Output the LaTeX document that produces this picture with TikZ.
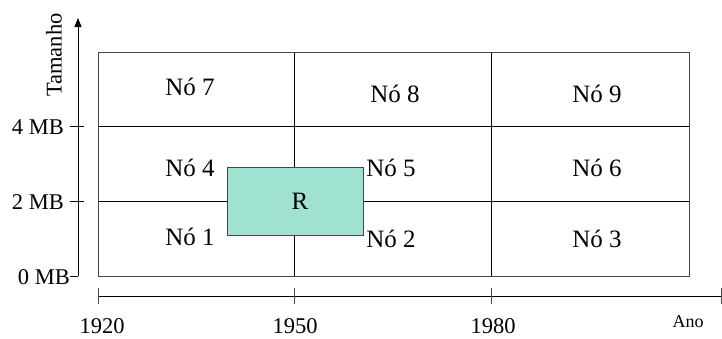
\documentclass[tikz,border=0pt]{standalone}
\usepackage{fontspec}
\setmainfont{Liberation Serif}
\usetikzlibrary{arrows.meta}
\definecolor{rfill}{RGB}{160,226,210}
\definecolor{rline}{RGB}{70,70,70}
\begin{document}
\begin{tikzpicture}[x=1pt,y=-1pt,
  lbl/.style={font=\fontsize{25}{28}\selectfont, inner sep=0pt, anchor=base},
  axlbl/.style={font=\fontsize{22.5}{24}\selectfont, inner sep=0pt, anchor=base},
  small/.style={font=\fontsize{18}{20}\selectfont, inner sep=0pt, anchor=base},
  gridline/.style={line width=0.8pt, black},
  border/.style={line width=1pt, rline},
  axis/.style={line width=0.8pt, black},
  tickline/.style={line width=0.8pt, black!70}]
\useasboundingbox (0,0) rectangle (722,338);
% grid coordinates
\coordinate (g00) at (98,276);
\coordinate (g11) at (689,52);
% inner lines
\draw[gridline] (98,126) -- (689,126);
\draw[gridline] (98,201) -- (689,201);
\draw[gridline] (294,52) -- (294,276);
\draw[gridline] (491,52) -- (491,276);
\draw[border] (g00) rectangle (g11);
% region R
\node[draw=rline, line width=1pt, fill=rfill, minimum width=136pt, minimum height=68pt, inner sep=0pt] (R) at (295,201) {};
\node[lbl] (Rl) at (300,209) {R};
% cell labels
\node[lbl] (n7) at (190,95) {Nó 7};
\node[lbl] (n8) at (395,102) {Nó 8};
\node[lbl] (n9) at (597,102) {Nó 9};
\node[lbl] (n4) at (190,176) {Nó 4};
\node[lbl] (n5) at (391,176) {Nó 5};
\node[lbl] (n6) at (597,176) {Nó 6};
\node[lbl] (n1) at (190,245) {Nó 1};
\node[lbl] (n2) at (391,247) {Nó 2};
\node[lbl] (n3) at (597,247) {Nó 3};
% y axis
\coordinate (ybot) at (78,276);
\coordinate (ytop) at (78,18);
\draw[axis,-{Triangle[length=9pt,width=7pt]}] (ybot) -- (ytop);
\draw[axis] (70,276) -- (ybot);
\draw[axis] (70,126) -- (84,126);
\draw[axis] (70,201) -- (84,201);
\node[axlbl, anchor=base east] (y4) at (64,134) {4 MB};
\node[axlbl, anchor=base east] (y2) at (64,209) {2 MB};
\node[axlbl, anchor=base east] (y0) at (70,284) {0 MB};
\node[axlbl, rotate=90, anchor=center] (tam) at (54,55) {Tamanho};
% x axis
\coordinate (xl) at (98,296);
\coordinate (xr) at (722,296);
\draw[axis] (xl) -- (xr);
\draw[tickline] (98,288) -- (98,304);
\draw[tickline] (294,288) -- (294,304);
\draw[tickline] (491,288) -- (491,304);
\draw[tickline] (721.5,288) -- (721.5,304);
\node[axlbl] (x1920) at (102,333) {1920};
\node[axlbl] (x1950) at (295,333) {1950};
\node[axlbl] (x1980) at (493,333) {1980};
\node[small] (ano) at (688,327) {Ano};
\end{tikzpicture}
\end{document}
